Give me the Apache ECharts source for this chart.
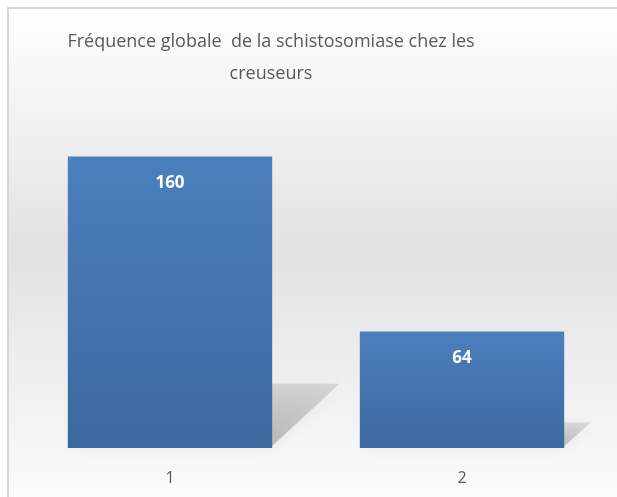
<!DOCTYPE html>
<html>
<head>
<meta charset="utf-8">
<script src="https://cdn.jsdelivr.net/npm/echarts@6/dist/echarts.min.js"></script>
<style>
  html, body { margin: 0; padding: 0; background: #ffffff; }
  #main { width: 617px; height: 497px; }
</style>
</head>
<body>
<div id="main"></div>
<script>
var categories = ['1', '2'];
var values = [160, 64];
var titleLines = ['Fréquence globale  de la schistosomiase chez les', 'creuseurs'];

var font = '"Open Sans", sans-serif';
var myChart = echarts.init(document.getElementById('main'));

// skewed drop shadow behind each bar
function renderShadow(params, api) {
    var idx = api.value(0);
    var base = api.coord([idx, 0]);
    var top = api.coord([idx, api.value(1)]);
    var w = api.size([1, 0])[0] * 0.7;
    var h = (base[1] - top[1]) * 0.22;
    var shift = h * 1.05;
    var x0 = base[0] - w / 2, x1 = base[0] + w / 2;
    return {
        type: 'polygon',
        shape: { points: [[x0, base[1] - 2], [x1, base[1] - 2], [x1 + shift, base[1] - h], [x0 + shift, base[1] - h]] },
        style: {
            fill: new echarts.graphic.LinearGradient(0, 0, 0, 1, [
                { offset: 0, color: 'rgba(0,0,0,0.10)' },
                { offset: 1, color: 'rgba(0,0,0,0.22)' }
            ]),
            shadowBlur: 14,
            shadowColor: 'rgba(0,0,0,0.25)'
        }
    };
}

var option = {
    animation: false,
    backgroundColor: '#ffffff',
    graphic: [
        {
            type: 'rect', z: -10, silent: true,
            shape: { x: 8, y: 8, width: 660, height: 540 },
            style: {
                fill: new echarts.graphic.LinearGradient(0, 0, 0, 1, [
                    { offset: 0, color: '#ffffff' },
                    { offset: 0.45, color: '#e2e2e2' },
                    { offset: 0.9, color: '#fbfbfb' },
                    { offset: 1, color: '#ffffff' }
                ]),
                stroke: '#d6d6d6', lineWidth: 2
            }
        },
        {
            type: 'text', x: 271, y: 26,
            style: {
                text: titleLines.join('\n'),
                fill: '#595959', font: '18px ' + font,
                align: 'center', verticalAlign: 'top', lineHeight: 32
            }
        }
    ],
    grid: { left: 24, right: 9, top: 120, bottom: 49 },
    xAxis: {
        type: 'category',
        data: categories,
        axisLine: { show: false },
        axisTick: { show: false },
        axisLabel: { color: '#595959', fontSize: 16, fontFamily: font, margin: 22 }
    },
    yAxis: { type: 'value', min: 0, max: 180, show: false },
    series: [
        {
            type: 'custom',
            renderItem: renderShadow,
            data: values.map(function (v, i) { return [i, v]; }),
            z: 1,
            silent: true
        },
        {
            type: 'bar',
            data: values,
            barWidth: '70%',
            z: 2,
            itemStyle: {
                color: new echarts.graphic.LinearGradient(0, 0, 0, 1, [
                    { offset: 0, color: '#4b7fbd' },
                    { offset: 1, color: '#3c68a0' }
                ])
            },
            label: {
                show: true,
                position: 'insideTop',
                distance: 18,
                color: '#ffffff',
                fontWeight: 'bold',
                fontSize: 17,
                fontFamily: font
            }
        }
    ]
};
myChart.setOption(option);
</script>
</body>
</html>
